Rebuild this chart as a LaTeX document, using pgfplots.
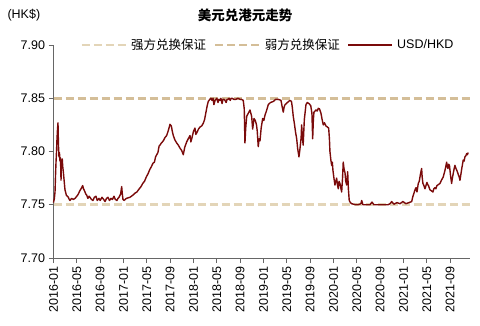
\documentclass[border=0pt]{standalone}
\usepackage{pgfplots}
\pgfplotsset{compat=1.18}
\usepackage{pgfplotstable}
\usepackage{fontspec}
\setmainfont{Liberation Sans}
\newfontfamily\cjk{Noto Sans CJK SC}
\definecolor{strongc}{HTML}{E3D5B8}
\definecolor{weakc}{HTML}{D4BE98}
\definecolor{usdc}{HTML}{7A0A0A}
\pgfplotstableread{
m v
0 7.752
0.15 7.756
0.26 7.762
0.35 7.778
0.43 7.790
0.52 7.800
0.6 7.812
0.7 7.822
0.77 7.827
0.85 7.806
0.94 7.795
1.02 7.799
1.11 7.791
1.2 7.794
1.29 7.773
1.35 7.790
1.41 7.789
1.5 7.793
1.58 7.786
1.7 7.780
1.80 7.774
1.9 7.768
1.97 7.764
2.2 7.759
2.54 7.757
2.7 7.755
2.83 7.754
3.1 7.756
3.4 7.755
3.69 7.756
4.0 7.758
4.25 7.760
4.5 7.763
4.83 7.766
5.0 7.768
5.15 7.765
5.40 7.762
5.55 7.760
5.69 7.759
5.9 7.756
6.1 7.758
6.26 7.757
6.5 7.755
6.77 7.754
7.0 7.757
7.28 7.758
7.5 7.754
7.80 7.756
8.0 7.754
8.31 7.757
8.6 7.755
8.83 7.753
9.1 7.756
9.34 7.757
9.6 7.754
9.86 7.756
10.1 7.755
10.37 7.758
10.6 7.755
10.88 7.754
11.05 7.756
11.23 7.757
11.5 7.760
11.69 7.767
11.8 7.760
11.91 7.755
12.08 7.754
12.5 7.756
13.1 7.757
13.6 7.759
14.0 7.761
14.3 7.762
14.7 7.765
15.0 7.767
15.3 7.770
15.6 7.772
15.9 7.776
16.2 7.779
16.5 7.783
16.8 7.786
17.05 7.789
17.3 7.790
17.5 7.795
17.7 7.797
17.9 7.799
18.1 7.805
18.25 7.806
18.5 7.808
18.82 7.810
19.1 7.813
19.40 7.815
19.7 7.820
19.97 7.8255
20.2 7.824
20.4 7.818
20.54 7.815
20.8 7.811
21.12 7.808
21.4 7.806
21.7 7.803
21.97 7.801
22.25 7.797
22.5 7.804
22.83 7.809
23.1 7.812
23.40 7.815
23.55 7.809
23.7 7.812
24.0 7.819
24.25 7.822
24.4 7.816
24.6 7.818
24.85 7.821
25.11 7.823
25.4 7.824
25.68 7.8265
25.9 7.830
26.14 7.837
26.35 7.843
26.53 7.847
26.8 7.849
27.0 7.850
27.17 7.848
27.35 7.850
27.5 7.844
27.7 7.848
27.85 7.849
28.0 7.850
28.2 7.846
28.35 7.849
28.54 7.848
28.7 7.850
28.9 7.845
29.05 7.849
29.22 7.849
29.4 7.848
29.6 7.846
29.75 7.849
29.91 7.849
30.1 7.850
30.3 7.848
30.45 7.850
30.6 7.850
30.9 7.849
31.28 7.849
31.6 7.850
31.97 7.849
32.2 7.849
32.53 7.848
32.7 7.840
32.82 7.808
32.95 7.822
33.12 7.833
33.4 7.836
33.68 7.839
33.97 7.833
34.14 7.821
34.37 7.831
34.6 7.829
34.8 7.825
34.93 7.819
35.1 7.8045
35.25 7.812
35.4 7.810
35.6 7.822
35.86 7.831
36.05 7.829
36.25 7.834
36.5 7.838
36.82 7.844
37.2 7.846
37.68 7.847
38.1 7.849
38.53 7.849
39.0 7.848
39.2 7.842
39.39 7.837
39.55 7.842
39.7 7.844
40.1 7.846
40.54 7.848
40.8 7.847
40.95 7.841
41.1 7.833
41.3 7.826
41.5 7.818
41.69 7.812
41.85 7.803
42.08 7.795
42.2 7.800
42.3 7.805
42.45 7.813
42.54 7.825
42.65 7.815
42.8 7.806
43.0 7.830
43.28 7.844
43.5 7.846
43.8 7.845
44.1 7.843
44.3 7.836
44.43 7.812
44.55 7.830
44.65 7.837
45.0 7.839
45.2 7.838
45.39 7.8405
45.6 7.840
45.85 7.836
46.05 7.830
46.25 7.825
46.45 7.827
46.7 7.824
46.95 7.823
47.17 7.822
47.3 7.812
47.39 7.800
47.55 7.792
47.69 7.787
47.8 7.790
47.91 7.782
48.05 7.776
48.25 7.7685
48.4 7.772
48.54 7.775
48.7 7.768
48.82 7.765
48.95 7.772
49.11 7.770
49.25 7.766
49.4 7.762
49.55 7.775
49.67 7.790
49.8 7.784
49.97 7.780
50.1 7.772
50.26 7.7685
50.35 7.775
50.43 7.781
50.55 7.765
50.7 7.754
50.9 7.752
51.11 7.751
51.68 7.7502
52.2 7.750
52.7 7.751
52.83 7.754
53.05 7.750
54.25 7.750
54.6 7.7525
54.94 7.750
55.97 7.750
57.34 7.750
57.7 7.751
57.97 7.753
58.36 7.7505
58.88 7.752
59.4 7.751
59.9 7.753
60.42 7.751
60.93 7.752
61.4 7.753
61.62 7.758
61.8 7.761
61.97 7.764
62.15 7.766
62.31 7.762
62.45 7.767
62.53 7.770
62.7 7.772
62.82 7.776
62.95 7.780
63.11 7.784
63.2 7.776
63.33 7.770
63.5 7.768
63.68 7.765
63.85 7.768
64.02 7.771
64.15 7.769
64.28 7.768
64.4 7.766
64.54 7.764
64.8 7.763
65.05 7.762
65.2 7.765
65.39 7.766
65.55 7.765
65.73 7.768
66.0 7.769
66.25 7.770
66.5 7.773
66.81 7.776
66.95 7.779
67.1 7.782
67.25 7.786
67.4 7.790
67.5 7.786
67.62 7.784
67.75 7.788
67.88 7.787
68.05 7.778
68.25 7.770
68.35 7.774
68.48 7.778
68.65 7.783
68.82 7.787
69.0 7.784
69.16 7.782
69.3 7.780
69.42 7.778
69.55 7.776
69.68 7.773
69.85 7.779
70.02 7.785
70.15 7.789
70.24 7.792
70.4 7.791
70.53 7.795
70.7 7.796
70.82 7.798
70.95 7.797
71.09 7.799
}\usdhkd
\begin{document}
\begin{tikzpicture}[x=1pt,y=1pt]
\path[use as bounding box] (0,0) rectangle (480,325);
\node[font=\fontsize{12.5}{14}\selectfont, anchor=west] at (4,310) {(HK\$)};
\node[font=\cjk\bfseries\fontsize{13.5}{15}\selectfont] at (245,310) {美元兑港元走势};
\begin{axis}[
  at={(53.5pt,67pt)}, anchor=south west,
  scale only axis, width=416.5pt, height=213pt,
  xmin=0, xmax=71.4, ymin=7.70, ymax=7.90,
  axis x line=bottom, axis y line=left,
  axis line style={-, draw=gray!80!black, line width=0.8pt},
  tick style={draw=gray!80!black, line width=0.8pt},
  tick align=outside, major tick length=5pt,
  xtick={0,4,...,68},
  xticklabels={2016-01,2016-05,2016-09,2017-01,2017-05,2017-09,2018-01,2018-05,2018-09,2019-01,2019-05,2019-09,2020-01,2020-05,2020-09,2021-01,2021-05,2021-09},
  x tick label style={rotate=90, anchor=east, font=\fontsize{12.5}{14}\selectfont},
  ytick={7.70,7.75,7.80,7.85,7.90},
  y tick label style={font=\fontsize{12.5}{14}\selectfont},
  /pgf/number format/fixed,
  /pgf/number format/fixed zerofill,
  /pgf/number format/precision=2,
  /pgf/number format/assume math mode=true,
  legend columns=3,
  legend style={at={(0.515,1)}, anchor=center, draw=none, fill=white,
     font=\fontsize{12.5}{14}\selectfont, column sep=6pt,
     /tikz/every odd column/.append style={column sep=2pt}},
  legend image code/.code={\draw[#1] (0pt,0pt) -- (44pt,0pt);},
  clip=false,
]
\addplot[strongc, line width=2.6pt, dash pattern=on 8pt off 4pt] coordinates {(0,7.75) (71.4,7.75)};
\addlegendentry{\cjk 强方兑换保证}
\addplot[weakc, line width=2.6pt, dash pattern=on 8pt off 4pt] coordinates {(0,7.85) (71.4,7.85)};
\addlegendentry{\cjk 弱方兑换保证}
\addplot[usdc, line width=1.4pt, line join=round] table[x=m,y=v] {\usdhkd};
\addlegendentry{USD/HKD}
\end{axis}
\end{tikzpicture}
\end{document}
